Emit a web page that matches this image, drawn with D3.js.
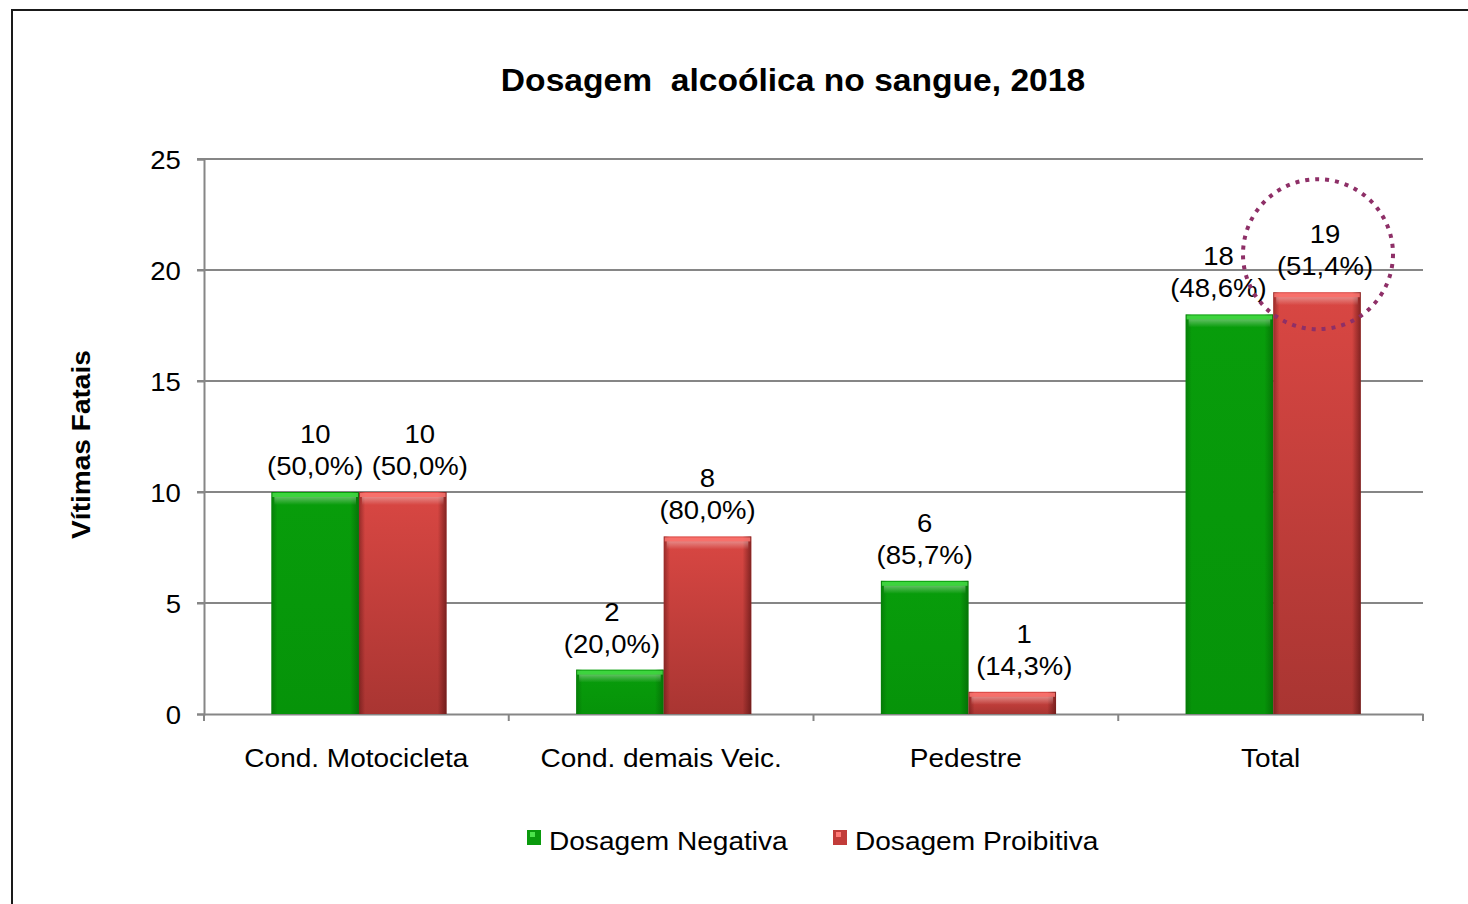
<!DOCTYPE html>
<html>
<head>
<meta charset="utf-8">
<script src="https://cdn.jsdelivr.net/npm/d3@7"></script>
<style>
  body { margin: 0; background: #fff; }
  text { font-family: "Liberation Sans", Arial, sans-serif; }
</style>
</head>
<body>
<div id="chart"></div>
<script>
// data
var categories = ["Cond. Motocicleta", "Cond. demais Veic.", "Pedestre", "Total"];
var seriesNames = ["Dosagem Negativa", "Dosagem Proibitiva"];
var negativa = [10, 2, 6, 18];
var proibitiva = [10, 8, 1, 19];
var negativaPct = ["50,0%", "20,0%", "85,7%", "48,6%"];
var proibitivaPct = ["50,0%", "80,0%", "14,3%", "51,4%"];
var yTicks = [0, 5, 10, 15, 20, 25];

// label nudges (Excel moved some labels sideways to avoid overlaps)
var labelShift = [[0, -8, 0, -11], [17, 0, 12, 8]];

var W = 1468, H = 904;
var margin = { top: 159, right: 45, bottom: 190, left: 204 },
    width = W - margin.left - margin.right,
    height = H - margin.top - margin.bottom;

var SX = 1.1; // the source font renders a bit wider than Liberation Sans

var svg = d3.select("#chart").append("svg")
    .attr("width", W)
    .attr("height", H);

var defs = svg.append("defs");

function barGradients(id, top, bottom, edge) {
  var v = defs.append("linearGradient").attr("id", id + "V")
      .attr("x1", 0).attr("y1", 0).attr("x2", 0).attr("y2", 1);
  v.append("stop").attr("offset", "0%").attr("stop-color", top);
  v.append("stop").attr("offset", "100%").attr("stop-color", bottom);
  var h = defs.append("linearGradient").attr("id", id + "H")
      .attr("x1", 0).attr("y1", 0).attr("x2", 1).attr("y2", 0);
  h.append("stop").attr("offset", "0%").attr("stop-color", edge).attr("stop-opacity", 0.45);
  h.append("stop").attr("offset", "7%").attr("stop-color", edge).attr("stop-opacity", 0);
  h.append("stop").attr("offset", "90%").attr("stop-color", edge).attr("stop-opacity", 0);
  h.append("stop").attr("offset", "100%").attr("stop-color", edge).attr("stop-opacity", 0.6);
  var t = defs.append("linearGradient").attr("id", id + "T")
      .attr("x1", 0).attr("y1", 0).attr("x2", 0).attr("y2", 1);
  t.append("stop").attr("offset", "0%").attr("stop-color", "#fff").attr("stop-opacity", 0.35);
  t.append("stop").attr("offset", "100%").attr("stop-color", "#fff").attr("stop-opacity", 0);
}
barGradients("green", "#089d0b", "#069309", "#045a05");
barGradients("red", "#d94743", "#a93532", "#4a0c0c");

var colors = {
  top: ["#4be24b", "#ff7a76"],
  fill: ["url(#greenV)", "url(#redV)"],
  edge: ["url(#greenH)", "url(#redH)"],
  shine: ["url(#greenT)", "url(#redT)"],
  legend: ["#0a9a0d", "#c23c39"]
};

// outer border
svg.append("rect")
    .attr("x", 12).attr("y", 10)
    .attr("width", W).attr("height", H)
    .attr("fill", "none").attr("stroke", "#1a1a1a").attr("stroke-width", 2);

var g = svg.append("g")
    .attr("transform", "translate(" + margin.left + "," + margin.top + ")");

var x0 = d3.scaleBand().domain(categories).range([0, width]).padding(0);
var x1 = d3.scaleBand().domain(seriesNames).range([0, x0.bandwidth()])
    .paddingInner(0).paddingOuter(0.74).align(0.52);
var y = d3.scaleLinear().domain([0, 25]).range([height, 0]);

// gridlines
g.append("g")
  .selectAll("line")
  .data(yTicks.filter(d => d > 0))
  .join("line")
    .attr("x1", -7).attr("x2", width)
    .attr("y1", d => y(d)).attr("y2", d => y(d))
    .attr("stroke", "#868686").attr("stroke-width", 2);

// y axis
var yAxis = g.append("g")
    .call(d3.axisLeft(y).tickValues(yTicks).tickSize(7).tickPadding(20));
yAxis.select(".domain").attr("stroke", "#868686").attr("stroke-width", 2);
yAxis.selectAll(".tick line").attr("stroke", "#868686").attr("stroke-width", 2);
yAxis.selectAll(".tick text").attr("font-size", 25).attr("fill", "#000")
    .attr("font-family", "Liberation Sans, Arial, sans-serif")
    .attr("x", -21).attr("dy", "0.36em")
    .attr("transform", "scale(" + SX + ",1)");

// x axis
var xAxis = g.append("g")
    .attr("transform", "translate(0," + height + ")")
    .call(d3.axisBottom(x0).tickSize(0).tickPadding(35));
xAxis.select(".domain").attr("stroke", "#868686").attr("stroke-width", 2);
xAxis.selectAll(".tick text").attr("font-size", 25).attr("fill", "#000")
    .attr("font-family", "Liberation Sans, Arial, sans-serif")
    .attr("transform", "scale(1.12,1)");
// boundary ticks between categories
g.append("g")
  .selectAll("line")
  .data(categories.concat(["end"]))
  .join("line")
    .attr("x1", (d, i) => i < categories.length ? x0(d) : width)
    .attr("x2", (d, i) => i < categories.length ? x0(d) : width)
    .attr("y1", height).attr("y2", height + 7)
    .attr("stroke", "#868686").attr("stroke-width", 2);

// bars
var rows = categories.map((c, i) => ({
  cat: c,
  vals: [
    { s: 0, i: i, name: seriesNames[0], v: negativa[i], pct: negativaPct[i] },
    { s: 1, i: i, name: seriesNames[1], v: proibitiva[i], pct: proibitivaPct[i] }
  ]
}));

var groups = g.selectAll(".grp")
  .data(rows)
  .join("g")
    .attr("class", "grp")
    .attr("transform", d => "translate(" + x0(d.cat) + ",0)");

var bars = groups.selectAll(".bar")
  .data(d => d.vals)
  .join("g")
    .attr("class", "bar");

bars.append("rect")
    .attr("x", d => x1(d.name)).attr("y", d => y(d.v))
    .attr("width", x1.bandwidth()).attr("height", d => y(0) - y(d.v))
    .attr("fill", d => colors.fill[d.s]);
bars.append("rect")
    .attr("x", d => x1(d.name)).attr("y", d => y(d.v))
    .attr("width", x1.bandwidth()).attr("height", d => y(0) - y(d.v))
    .attr("fill", d => colors.edge[d.s]);
bars.append("rect")
    .attr("x", d => x1(d.name) + 1).attr("y", d => y(d.v) + 1)
    .attr("width", x1.bandwidth() - 2).attr("height", 4)
    .attr("fill", d => colors.top[d.s]).attr("opacity", 0.8);
bars.append("rect")
    .attr("x", d => x1(d.name) + 3).attr("y", d => y(d.v) + 5)
    .attr("width", x1.bandwidth() - 6).attr("height", d => Math.min(8, y(0) - y(d.v) - 6))
    .attr("fill", d => colors.shine[d.s]);

// value labels
var labels = bars.append("g")
    .attr("transform", d => "translate(" +
      (x1(d.name) + x1.bandwidth() / 2 + labelShift[d.s][d.i]) + "," + y(d.v) + ")")
  .append("text")
    .attr("text-anchor", "middle")
    .attr("font-size", 25)
    .attr("fill", "#000")
    .attr("transform", "scale(" + SX + ",1)");
labels.append("tspan")
    .attr("x", 0).attr("y", -49)
    .text(d => d.v);
labels.append("tspan")
    .attr("x", 0).attr("y", -17)
    .text(d => "(" + d.pct + ")");

// dotted highlight circle around the Total / Proibitiva label
var tot = categories[3];
g.append("circle")
    .attr("cx", x0(tot) + x1(seriesNames[1]) + x1.bandwidth() / 2 + 1)
    .attr("cy", y(19) - 38)
    .attr("r", 75)
    .attr("fill", "none")
    .attr("stroke", "#8e2f67")
    .attr("stroke-width", 4)
    .attr("stroke-dasharray", "4,6");

// title
svg.append("g")
    .attr("transform", "translate(793,91)")
  .append("text")
    .attr("text-anchor", "middle")
    .attr("font-size", 32).attr("font-weight", "bold")
    .attr("transform", "scale(1.05,1)")
    .style("white-space", "pre")
    .text("Dosagem  alcoólica no sangue, 2018");

// y axis title
svg.append("text")
    .attr("transform", "translate(90," + (margin.top + height / 2 + 8) + ") rotate(-90) scale(1.08,1)")
    .attr("text-anchor", "middle")
    .attr("font-size", 26).attr("font-weight", "bold")
    .text("Vítimas Fatais");

// legend
var legend = svg.append("g").attr("transform", "translate(527,830)");
var legX = [0, 306];
seriesNames.forEach((s, i) => {
  var lg = legend.append("g").attr("transform", "translate(" + legX[i] + ",0)");
  lg.append("rect").attr("width", 14).attr("height", 15)
    .attr("fill", colors.legend[i]);
  lg.append("rect").attr("x", 3).attr("y", 2).attr("width", 5).attr("height", 5)
    .attr("fill", colors.top[i]);
  lg.append("text").attr("x", 22).attr("y", 20)
    .attr("font-size", 26).attr("fill", "#000")
    .attr("transform", "translate(22,0) scale(1.08,1) translate(-22,0)")
    .text(s);
});
</script>
</body>
</html>
